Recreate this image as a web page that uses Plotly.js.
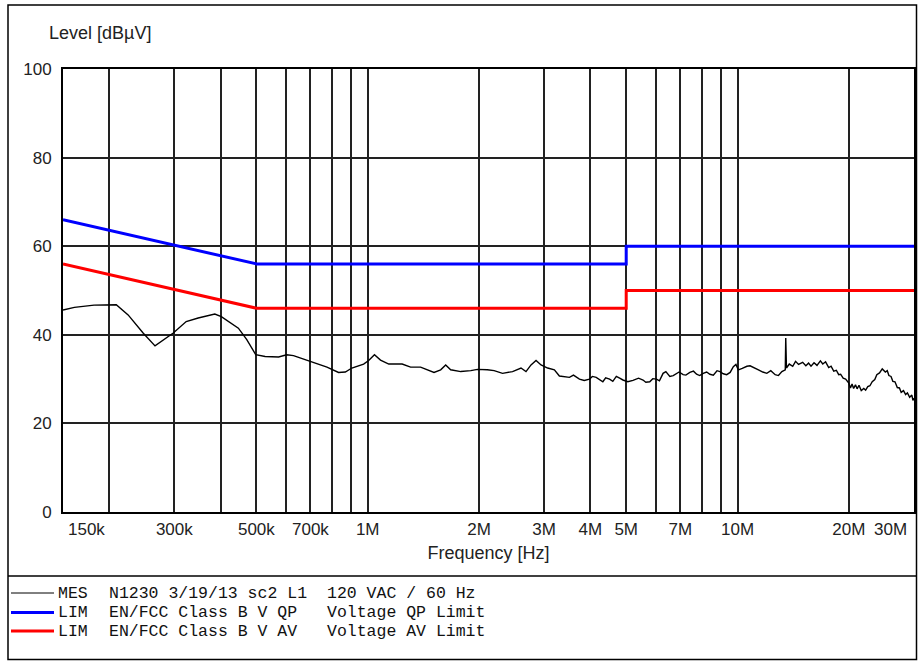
<!DOCTYPE html>
<html>
<head>
<meta charset="utf-8">
<script src="https://cdn.plot.ly/plotly-3.0.1.min.js"></script>
<style>
  html, body { margin: 0; padding: 0; background: #fff; }
  #chart { width: 918px; height: 661px; }
</style>
</head>
<body>
<div id="chart"></div>
<script>
// ---- Data ----
// Measured trace (MES), frequency in MHz and level in dBµV
const mesFreqMHz = [
  0.150, 0.161, 0.182, 0.209, 0.225, 0.247, 0.266, 0.283, 0.298, 0.323,
  0.348, 0.386, 0.402, 0.447, 0.471, 0.498, 0.528, 0.574, 0.604, 0.630,
  0.684, 0.714, 0.776, 0.834, 0.870, 0.906, 0.975, 1.006, 1.043, 1.083,
  1.140, 1.239, 1.306, 1.390, 1.511, 1.575, 1.625, 1.676, 1.785, 1.900,
  1.980, 2.107, 2.197, 2.315, 2.464, 2.597, 2.679, 2.764, 2.852, 2.942,
  3.066, 3.197, 3.298, 3.512, 3.60, 3.737, 3.85, 3.978, 4.05, 4.148,
  4.25, 4.323, 4.40, 4.508, 4.60, 4.701, 4.80, 4.899, 5.05, 5.215,
  5.40, 5.552, 5.65, 5.789, 5.90, 6.036, 6.15, 6.290, 6.40, 6.560,
  6.70, 6.839, 6.95, 7.126, 7.25, 7.431, 7.60, 7.749, 7.90, 8.075,
  8.25, 8.420, 8.60, 8.80, 8.965, 9.15, 9.348, 9.55, 9.741, 9.90,
  10.05, 10.30, 10.60, 10.81, 11.10, 11.39, 11.70, 12.00, 12.30, 12.64,
  12.90, 13.18, 13.46, 13.50, 13.56, 13.80, 14.10, 14.35, 14.62, 15.00,
  15.30, 15.56, 15.80, 16.10, 16.40, 16.75, 17.00, 17.30, 17.64, 17.90,
  18.20, 18.50, 18.77, 19.00, 19.30, 19.60, 19.99, 20.20, 20.40, 20.60,
  20.84, 21.05, 21.30, 21.60, 21.95, 22.20, 22.50, 22.80, 23.13, 23.50,
  23.80, 24.20, 24.62, 25.10, 25.40, 25.66, 26.00, 26.30, 26.65, 27.04,
  27.40, 27.70, 28.10, 28.48, 28.80, 29.20, 29.60, 29.80, 30.00
];
const mesLevel = [
  45.6, 46.2, 46.7, 46.8, 44.5, 40.4, 37.5, 39.0, 40.4, 43.0,
  43.8, 44.7, 44.1, 41.5, 38.9, 35.5, 35.1, 35.0, 35.5, 35.3,
  34.3, 33.6, 32.7, 31.5, 31.6, 32.5, 33.4, 34.2, 35.5, 34.3,
  33.4, 33.4, 32.7, 32.7, 31.5, 32.1, 33.2, 32.1, 31.7, 31.9,
  32.2, 32.1, 31.9, 31.3, 31.7, 32.5, 31.7, 33.2, 34.2, 33.2,
  32.5, 32.1, 30.7, 30.4, 30.9, 30.0, 29.7, 30.0, 30.6, 30.4,
  29.8, 29.4, 30.3, 30.0, 29.5, 30.6, 30.2, 29.8, 29.4, 29.7,
  30.2, 29.8, 29.3, 29.4, 30.1, 30.0, 29.6, 31.3, 31.7, 30.6,
  30.8, 31.2, 31.6, 31.0, 30.9, 31.5, 31.8, 31.1, 30.8, 31.3,
  31.6, 31.1, 30.9, 31.9, 31.7, 31.2, 31.0, 31.5, 32.8, 33.3,
  32.1, 32.4, 32.9, 33.0, 32.6, 32.1, 31.6, 31.3, 31.9, 31.0,
  30.8, 31.7, 32.1, 39.3, 32.5, 33.4, 32.9, 34.0, 33.3, 33.8,
  33.0, 33.6, 32.9, 33.7, 33.1, 34.1, 33.4, 33.9, 32.6, 32.9,
  31.8, 32.0, 31.0, 31.1, 30.2, 30.0, 29.1, 28.0, 28.9, 27.9,
  28.7, 27.8, 28.6, 27.4, 27.9, 27.5, 28.3, 28.5, 29.4, 29.9,
  31.0, 31.4, 32.3, 31.6, 31.9, 30.8, 30.6, 29.5, 29.4, 28.1,
  28.0, 27.0, 27.4, 26.5, 26.9, 25.9, 26.4, 25.2, 25.7
];

// Limit lines (EN/FCC Class B), frequency in Hz
const qpFreq  = [150e3, 500e3, 5e6, 5e6, 30e6];
const qpLevel = [66, 56, 56, 60, 60];
const avFreq  = [150e3, 500e3, 5e6, 5e6, 30e6];
const avLevel = [56, 46, 46, 50, 50];

// Axis ticks
const gridVals = [2e5, 3e5, 4e5, 5e5, 6e5, 7e5, 8e5, 9e5, 1e6, 2e6, 3e6, 4e6, 5e6, 6e6, 7e6, 8e6, 9e6, 1e7, 2e7];
const gridText = ['', '300k', '', '500k', '', '700k', '', '', '1M', '2M', '3M', '4M', '5M', '', '7M', '', '', '10M', '20M'];
const edgeVals = [150e3, 30e6];
const edgeText = ['150k', '30M'];
const yTickVals = [0, 20, 40, 60, 80, 100];

// Legend rows
const legendNames = ['MES', 'LIM', 'LIM'];
const legendCol2 = ['N1230 3/19/13 sc2 L1', 'EN/FCC Class B V QP', 'EN/FCC Class B V AV'];
const legendCol3 = ['120 VAC / 60 Hz', 'Voltage QP Limit', 'Voltage AV Limit'];
const legendColors = ['#000000', '#0000ff', '#ff0000'];
const legendWidths = [1, 3, 3];

// ---- Figure ----
const W = 918, H = 661;
const M = { l: 63, r: 4, t: 69, b: 149 };
const PW = W - M.l - M.r, PH = H - M.t - M.b;
const px2x = px => (px - M.l) / PW;
const py2y = py => (H - M.b - py) / PH;

const sansFont = 'Liberation Sans, Arial, sans-serif';
const monoFont = 'Liberation Mono, Courier New, monospace';

const traces = [
  { x: mesFreqMHz.map(f => f * 1e6), y: mesLevel, type: 'scatter', mode: 'lines',
    line: { color: '#000000', width: 1.4 }, hoverinfo: 'skip' },
  { x: qpFreq, y: qpLevel, type: 'scatter', mode: 'lines',
    line: { color: '#0000ff', width: 3 }, hoverinfo: 'skip' },
  { x: avFreq, y: avLevel, type: 'scatter', mode: 'lines',
    line: { color: '#ff0000', width: 3 }, hoverinfo: 'skip' }
];

const shapes = [
  // outer frame
  { type: 'rect', xref: 'paper', yref: 'paper', x0: px2x(8), x1: px2x(916.5), y0: py2y(659.5), y1: py2y(5),
    line: { color: '#000', width: 1.5 }, layer: 'below' },
  // separator above legend
  { type: 'line', xref: 'paper', yref: 'paper', x0: px2x(8), x1: px2x(916.5), y0: py2y(576), y1: py2y(576),
    line: { color: '#000', width: 1.5 } }
];

const annotations = [
  { text: 'Level [dBµV]', xref: 'paper', yref: 'paper', x: px2x(47), y: py2y(33),
    xanchor: 'left', yanchor: 'middle', showarrow: false,
    font: { family: sansFont, size: 18, color: '#222' } }
];

// edge tick labels (shifted inward as in reference)
edgeVals.forEach((v, i) => {
  annotations.push({ text: edgeText[i], xref: 'x', yref: 'paper', x: Math.log10(v), y: py2y(529),
    xanchor: i === 0 ? 'left' : 'right', xshift: i === 0 ? 3 : -5, yanchor: 'middle', showarrow: false,
    font: { family: sansFont, size: 17, color: '#222' } });
});

const rowY = [593, 612.5, 631];
legendNames.forEach((name, i) => {
  shapes.push({ type: 'line', xref: 'paper', yref: 'paper', x0: px2x(11), x1: px2x(54), y0: py2y(rowY[i]), y1: py2y(rowY[i]),
    line: { color: legendColors[i], width: legendWidths[i] } });
  [[name, 56], [legendCol2[i], 107], [legendCol3[i], 325]].forEach(([t, xp]) => {
    annotations.push({ text: t, xref: 'paper', yref: 'paper', x: px2x(xp), y: py2y(rowY[i]),
      xanchor: 'left', yanchor: 'middle', showarrow: false,
      font: { family: monoFont, size: 16.5, color: '#111' } });
  });
});

const layout = {
  width: W, height: H,
  margin: M,
  paper_bgcolor: '#ffffff', plot_bgcolor: '#ffffff',
  showlegend: false,
  hovermode: false,
  dragmode: false,
  xaxis: {
    type: 'log',
    range: [Math.log10(150e3), Math.log10(30e6)],
    tickmode: 'array', tickvals: gridVals, ticktext: gridText,
    showgrid: true, gridcolor: '#222', gridwidth: 2,
    showline: true, linecolor: '#000', linewidth: 2, mirror: true,
    ticks: '', ticklabelstandoff: 1,
    tickfont: { family: sansFont, size: 17, color: '#222' },
    title: { text: 'Frequency [Hz]', font: { family: sansFont, size: 18, color: '#222' }, standoff: 8 },
    automargin: false, zeroline: false, fixedrange: true
  },
  yaxis: {
    range: [0, 100],
    tickmode: 'array', tickvals: yTickVals,
    showgrid: true, gridcolor: '#222', gridwidth: 2,
    showline: true, linecolor: '#000', linewidth: 2, mirror: true,
    ticks: '', ticklabelstandoff: 6,
    tickfont: { family: sansFont, size: 17, color: '#222' },
    automargin: false, zeroline: false, fixedrange: true
  },
  shapes: shapes,
  annotations: annotations
};

Plotly.newPlot('chart', traces, layout, { displayModeBar: false, responsive: false });
</script>
</body>
</html>
